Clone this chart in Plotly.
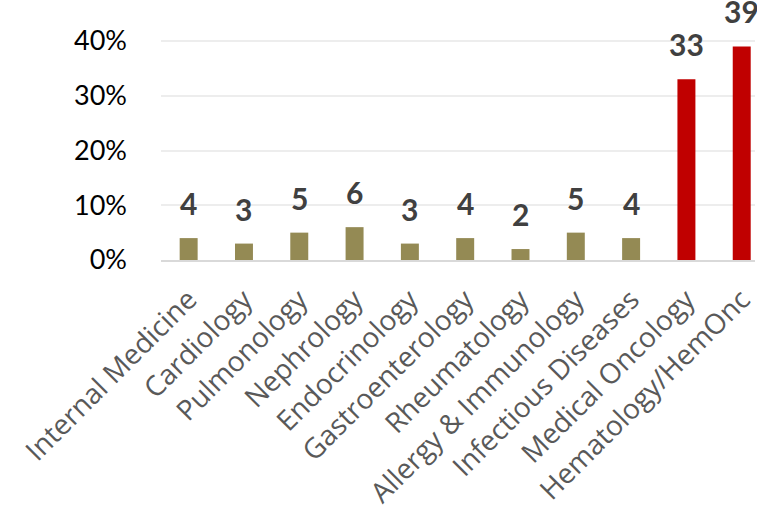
import plotly.graph_objects as go

# Share of respondents by specialty (%)
specialties = [
    "Internal Medicine", "Cardiology", "Pulmonology", "Nephrology",
    "Endocrinology", "Gastroenterology", "Rheumatology",
    "Allergy & Immunology", "Infectious Diseases", "Medical Oncology",
    "Hematology/HemOnc",
]
percent = [4, 3, 5, 6, 3, 4, 2, 5, 4, 33, 39]
highlight = [False] * 9 + [True, True]

y_ticks = [0, 10, 20, 30, 40]
y_tick_labels = ["0%", "10%", "20%", "30%", "40%"]

OLIVE = "#948A54"
RED = "#C00000"
colors = [RED if h else OLIVE for h in highlight]

fig = go.Figure(
    go.Bar(
        x=specialties,
        y=percent,
        marker=dict(color=colors, line=dict(width=0)),
        hoverinfo="skip",
    )
)

# value labels above each bar
for name, v in zip(specialties, percent):
    fig.add_annotation(
        x=name, y=v, text=f"<b>{v}</b>", showarrow=False,
        yanchor="bottom", yshift=15,
        font=dict(family="Lato, Open Sans, sans-serif", size=30, color="#404040"),
    )

fig.update_layout(
    width=757, height=510,
    margin=dict(l=161, r=0, t=0, b=250),
    paper_bgcolor="white", plot_bgcolor="white",
    bargap=0.675,
    showlegend=False,
    xaxis=dict(
        range=[-0.5, 10.24],
        tickangle=-45,
        tickfont=dict(family="Open Sans, sans-serif", size=28, color="#595959"),
        showline=True, linecolor="#D9D9D9", linewidth=2,
        showgrid=False, ticks="",
        ticklabelstandoff=10,
    ),
    yaxis=dict(
        range=[0, 47.49],
        tickmode="array",
        tickvals=y_ticks,
        ticktext=y_tick_labels,
        tickfont=dict(family="Lato, Open Sans, sans-serif", size=27, color="#000000"),
        showgrid=True, gridcolor="#EDEDED", gridwidth=1.5,
        zeroline=False, showline=False, ticks="",
        ticklabelstandoff=33,
    ),
)

fig.write_html("out.html")
